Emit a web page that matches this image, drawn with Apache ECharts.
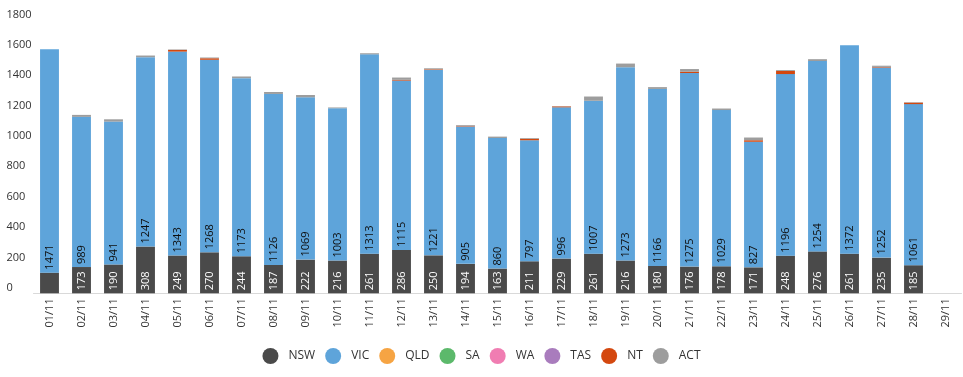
<!DOCTYPE html>
<html>
<head>
<meta charset="utf-8">
<script src="https://cdn.jsdelivr.net/npm/echarts@6/dist/echarts.min.js"></script>
<style>
  html, body { margin: 0; padding: 0; background: #fff; }
  #chart { width: 963px; height: 377px; }
</style>
</head>
<body>
<div id="chart"></div>
<script>
// dates
var days = ['01/11', '02/11', '03/11', '04/11', '05/11', '06/11', '07/11', '08/11', '09/11', '10/11',
  '11/11', '12/11', '13/11', '14/11', '15/11', '16/11', '17/11', '18/11', '19/11', '20/11',
  '21/11', '22/11', '23/11', '24/11', '25/11', '26/11', '27/11', '28/11', '29/11'];

var nsw = [136, 173, 190, 308, 249, 270, 244, 187, 222, 216, 261, 286, 250, 194, 163, 211, 229, 261, 216, 180,
  176, 178, 171, 248, 276, 261, 235, 185, null];
var vic = [1471, 989, 941, 1247, 1343, 1268, 1173, 1126, 1069, 1003, 1313, 1115, 1221, 905, 860, 797, 996, 1007, 1273, 1166,
  1275, 1029, 827, 1196, 1254, 1372, 1252, 1061, null];
var qld = [0, 0, 0, 0, 0, 0, 0, 0, 0, 0, 0, 0, 0, 0, 0, 0, 0, 0, 0, 0, 0, 0, 0, 0, 0, 0, 0, 0, null];
var sa = [0, 0, 0, 0, 0, 0, 0, 0, 0, 0, 0, 0, 0, 0, 0, 0, 0, 0, 0, 0, 0, 0, 0, 0, 0, 0, 0, 0, null];
var wa = [0, 0, 0, 0, 0, 0, 0, 0, 0, 0, 0, 0, 0, 0, 0, 0, 0, 0, 0, 0, 0, 0, 0, 0, 0, 0, 0, 0, null];
var tas = [0, 0, 0, 0, 0, 0, 0, 0, 0, 0, 0, 0, 0, 0, 0, 0, 0, 0, 0, 0, 0, 0, 0, 0, 0, 0, 0, 0, null];
var nt = [0, 0, 0, 0, 11, 10, 0, 0, 0, 0, 0, 5, 4, 4, 0, 10, 6, 0, 0, 0, 8, 0, 10, 20, 0, 0, 4, 10, null];
var act = [0, 13, 15, 11, 3, 5, 11, 13, 15, 5, 7, 15, 7, 5, 9, 5, 2, 28, 24, 12, 18, 10, 18, 6, 12, 0, 8, 3, null];

var names = ['NSW', 'VIC', 'QLD', 'SA', 'WA', 'TAS', 'NT', 'ACT'];
var colors = ['#4a4a4a', '#5ea4da', '#f6a443', '#5cb96b', '#f07db2', '#a97cbd', '#d4480f', '#9d9d9d'];
var values = [nsw, vic, qld, sa, wa, tas, nt, act];

var font = 'Open Sans';
var chart = echarts.init(document.getElementById('chart'));

var series = [];
for (let i = 0; i < names.length; i++) {
  var data = values[i].slice();
  var s = {
    name: names[i],
    type: 'bar',
    stack: 'all',
    barCategoryGap: '41%',
    data: data,
    itemStyle: { color: colors[i] }
  };
  if (i < 2) {
    s.label = {
      show: true,
      position: 'insideBottom',
      distance: 3,
      rotate: 90,
      align: 'left',
      verticalAlign: 'middle',
      fontFamily: font,
      fontSize: 11,
      color: i == 0 ? '#ffffff' : '#0d0d0d'
    };
  }
  series.push(s);
}
// first NSW bar has no label in the original
series[0].data[0] = { value: nsw[0], label: { show: false } };

var option = {
  animation: false,
  color: colors,
  textStyle: { fontFamily: font },
  grid: {
    left: 33.5,
    right: 1.5,
    top: 20,
    bottom: 83.7,
    containLabel: false,
    outerBoundsMode: 'none'
  },
  legend: {
    bottom: 8,
    left: 'center',
    icon: 'circle',
    itemWidth: 16,
    itemHeight: 16,
    itemGap: 10,
    data: names,
    textStyle: { fontFamily: font, fontSize: 12, color: '#333333', padding: [0, 0, 0, 5] }
  },
  xAxis: {
    type: 'category',
    data: days,
    axisLine: { lineStyle: { color: '#d9d9d9' } },
    axisTick: { show: false },
    axisLabel: { rotate: 90, interval: 0, margin: 5, fontFamily: font, fontSize: 11, color: '#333333' }
  },
  yAxis: {
    type: 'value',
    min: 0,
    max: 1800,
    interval: 200,
    splitLine: { show: false },
    axisLine: { show: false },
    axisTick: { show: false },
    axisLabel: {
      align: 'left', verticalAlign: 'bottom', margin: 27, fontFamily: font, fontSize: 11, color: '#333333',
      formatter: function (v) { return String(v); }
    }
  },
  series: series
};
chart.setOption(option);
</script>
</body>
</html>
